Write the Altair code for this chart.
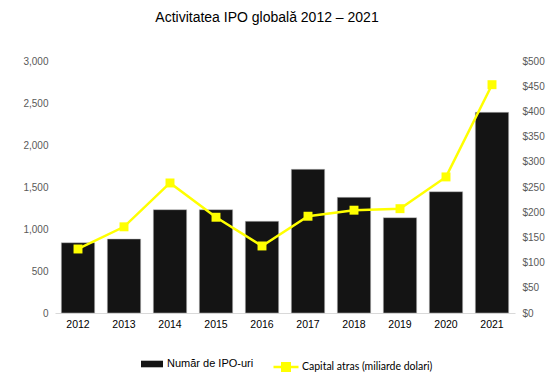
import altair as alt
import pandas as pd

years = ["2012", "2013", "2014", "2015", "2016", "2017", "2018", "2019", "2020", "2021"]
ipo_counts = [837, 881, 1230, 1230, 1092, 1711, 1377, 1135, 1444, 2389]
capital_bn = [127, 171, 258, 190, 133, 192, 204, 207, 270, 453]
series_bar = "Număr de IPO-uri"
series_line = "Capital atras (miliarde dolari)"
left_ticks = [0, 500, 1000, 1500, 2000, 2500, 3000]
right_ticks = [0, 50, 100, 150, 200, 250, 300, 350, 400, 450, 500]

df = pd.DataFrame({
    "An": years,
    "IPO": ipo_counts,
    "Capital": capital_bn,
    "SerieBar": [series_bar] * len(years),
    "SerieLinie": [series_line] * len(years),
})

FONT = "Liberation Sans"

x = alt.X(
    "An:O", title=None,
    scale=alt.Scale(paddingInner=0.275, paddingOuter=0.1375),
    axis=alt.Axis(labelAngle=0, ticks=False, domainColor="#d9d9d9", labelFontSize=10.5,
                  labelColor="#000000", labelPadding=6, labelFont=FONT),
)

bars = alt.Chart(df).mark_bar(stroke="#bfbfbf", strokeWidth=0.5).encode(
    x=x,
    y=alt.Y("IPO:Q", title=None,
            scale=alt.Scale(domain=[0, 3000], nice=False),
            axis=alt.Axis(values=left_ticks, format=",d", grid=False, ticks=False, domain=False,
                          labelPadding=7, labelFontSize=10, labelColor="#595959", labelFont=FONT)),
    color=alt.Color("SerieBar:N", scale=alt.Scale(range=["#141414"]),
                    legend=alt.Legend(title=None, orient="none", legendX=86, legendY=292,
                                      symbolType="M-1,-0.3H1V0.3H-1Z", symbolSize=484,
                                      symbolStrokeWidth=0, labelFontSize=11, labelFont=FONT,
                                      labelColor="#000000", labelOffset=4, padding=0)),
)

yR = alt.Y("Capital:Q", title=None,
           scale=alt.Scale(domain=[0, 500], nice=False),
           axis=alt.Axis(orient="right", values=right_ticks, format="$,.0f", grid=False, ticks=False,
                         domain=False, labelPadding=7, labelFontSize=10, labelColor="#595959",
                         labelFont=FONT))

base = alt.Chart(df).encode(x=x, y=yR)

line = base.mark_line(strokeWidth=2.5).encode(
    stroke=alt.Stroke("SerieLinie:N", scale=alt.Scale(range=["#ffff00"]),
                      legend=alt.Legend(title=None, orient="none", legendX=217, legendY=292,
                                        symbolType="M-1,0H1M-0.3,-0.3H0.3V0.3H-0.3Z",
                                        symbolSize=625, symbolStrokeWidth=2.5,
                                        symbolFillColor="#ffff00", labelFontSize=10.5,
                                        labelFont="Lato", labelColor="#000000",
                                        labelOffset=2, padding=0)),
)
points = base.mark_point(shape="square", filled=True, size=80, color="#ffff00", opacity=1)

chart = alt.layer(bars, alt.layer(line, points)).resolve_scale(
    y="independent"
).properties(
    width=460, height=252,
    autosize=alt.AutoSizeParams(type="none"),
    padding={"left": 55, "top": 61, "right": 35, "bottom": 64},
    background="white",
    title=alt.Title("Activitatea IPO globală 2012 – 2021", fontSize=14, font=FONT,
                    fontWeight="normal", color="#000000", dx=-18, offset=31),
).configure_view(stroke=None)

chart.save("out.html", embed_options={"renderer": "svg", "actions": False})
